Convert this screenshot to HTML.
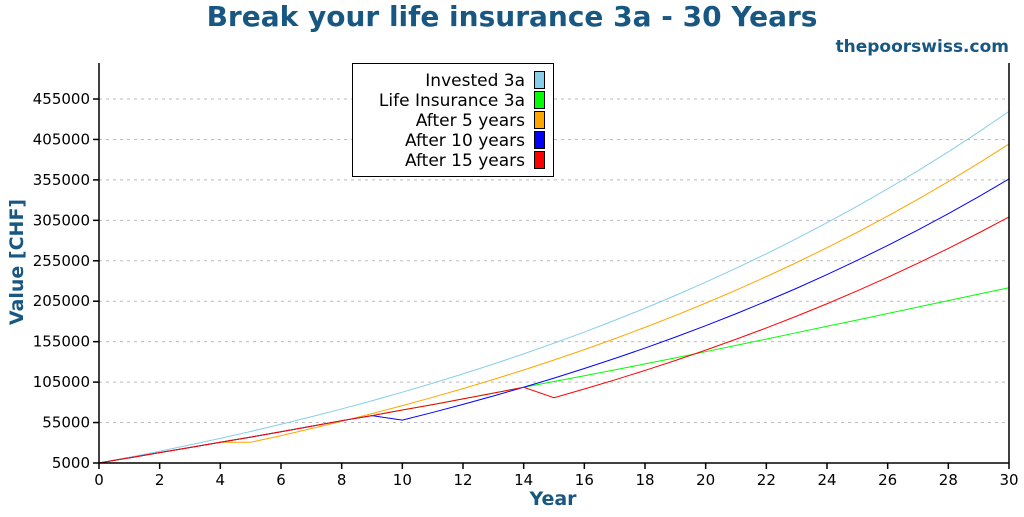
<!DOCTYPE html>
<html><head><meta charset="utf-8"><style>
body{margin:0;background:#fff;font-family:"Liberation Sans","DejaVu Sans",sans-serif;}
svg text{font-family:"DejaVu Sans","Liberation Sans",sans-serif;}
</style></head><body>
<svg id="chart" width="1024" height="512" xmlns="http://www.w3.org/2000/svg">
<text x="512" y="26" text-anchor="middle" font-size="28" font-weight="bold" fill="#175782">Break your life insurance 3a - 30 Years</text>
<text x="1009" y="52" text-anchor="end" font-size="17" font-weight="bold" fill="#175782">thepoorswiss.com</text>
<text transform="translate(23,262) rotate(-90)" text-anchor="middle" font-size="19" font-weight="bold" fill="#175782">Value [CHF]</text>
<text x="553" y="505" text-anchor="middle" font-size="19" font-weight="bold" fill="#175782">Year</text>
<g id="grid"></g><g id="series"></g><g id="axes"></g><g id="legend"></g>
</svg>
<script>
const years=[0,1,2,3,4,5,6,7,8,9,10,11,12,13,14,15,16,17,18,19,20,21,22,23,24,25,26,27,28,29,30];
const invested=[5000,12125,19571,27352,35483,43980,52859,62138,71834,81967,92555,103620,115183,127266,139893,153088,166877,181286,196344,212079,228523,245707,263664,282429,302038,322530,343944,366321,389705,414142,439678];
const lifeIns=[5000,11400,17800,24200,30600,37000,43700,50400,57300,63600,70500,77200,84300,91400,98600,105700,112900,120100,127500,135000,142600,150400,158200,166100,174000,181800,189800,197800,205800,213800,221700];
const after5=[5000,11400,17800,24200,30600,30600,38877,47526,56565,66010,75880,86195,96974,108238,120009,132309,145163,158595,172632,187300,202629,218647,235386,252878,271158,290260,310222,331082,352881,375661,399466];
const after10=[5000,11400,17800,24200,30600,37000,43700,50400,57300,63600,58000,67510,77448,87833,98600,109937,121784,134164,147101,160621,174749,189513,204941,221063,237911,255517,273915,293141,313232,334227,356167];
const after15=[5000,11400,17800,24200,30600,37000,43700,50400,57300,63600,70500,77200,84300,91400,98600,85700,96457,107698,119444,131719,144546,157951,171959,186597,201894,217879,234584,252040,270282,289345,309266];
const yTicks=[5000,55000,105000,155000,205000,255000,305000,355000,405000,455000];
const xTicks=[0,2,4,6,8,10,12,14,16,18,20,22,24,26,28,30];
const seriesNames=["Invested 3a","Life Insurance 3a","After 5 years","After 10 years","After 15 years"];
const seriesColors=["#87ceeb","#00ff00","#ffa500","#0000ff","#ff0000"];
const seriesData=[invested,lifeIns,after5,after10,after15];

const NS="http://www.w3.org/2000/svg";
const L=99,R=1009,T=63,B=463;
const xs=v=>L+(v-0)/(30-0)*(R-L);
const ys=v=>B-(v-5000)/(455000-5000)*(B-99);
function mk(tag,attrs,parent){const e=document.createElementNS(NS,tag);for(const k in attrs)e.setAttribute(k,attrs[k]);parent.appendChild(e);return e;}
const grid=document.getElementById('grid'),axes=document.getElementById('axes'),ser=document.getElementById('series'),leg=document.getElementById('legend');
yTicks.forEach(t=>{
  const y=ys(t);
  if(t!==5000){const g=mk('line',{x1:L,x2:R,y1:y,y2:y,stroke:'#bbb','stroke-dasharray':'3,4','stroke-width':1},grid);
  
  }
  const tk=mk('line',{x1:L-6,x2:L,y1:y,y2:y,stroke:'#000','stroke-width':1.5},axes);
  
  
  const tx=mk('text',{x:L-9,y:y+5,'text-anchor':'end','font-size':15,fill:'#000'},axes);tx.textContent=t;
  
  
});
xTicks.forEach(t=>{
  const x=xs(t);
  const tk=mk('line',{x1:x,x2:x,y1:B,y2:B+6,stroke:'#000','stroke-width':1.5},axes);
  
  
  const tx=mk('text',{x:x,y:B+22,'text-anchor':'middle','font-size':15,fill:'#000'},axes);tx.textContent=t;
  
  
});
const ax1=mk('line',{x1:L,x2:L,y1:T,y2:B,stroke:'#000','stroke-width':1.5},axes);


const ax2=mk('line',{x1:R,x2:R,y1:T,y2:B,stroke:'#000','stroke-width':1.5},axes);


const ax3=mk('line',{x1:L,x2:R,y1:B,y2:B,stroke:'#000','stroke-width':1.5},axes);


seriesData.forEach((d,i)=>{
  const p=mk('polyline',{points:d.map((v,j)=>xs(years[j])+','+ys(v)).join(' '),fill:'none',stroke:seriesColors[i],'stroke-width':1},ser);
  
  
});
const box=mk('rect',{x:352.5,y:63.5,width:201,height:113,fill:'#fff',stroke:'#000','stroke-width':1},leg);


seriesNames.forEach((n,i)=>{
  const y=80+i*20;
  const tx=mk('text',{x:525,y:y+6,'text-anchor':'end','font-size':17,fill:'#000'},leg);tx.textContent=n;
  
  
  const sw=mk('rect',{x:534.5,y:y-8.5,width:10,height:17,fill:seriesColors[i],stroke:'#000','stroke-width':1},leg);
  
  
});
</script>
</body></html>
